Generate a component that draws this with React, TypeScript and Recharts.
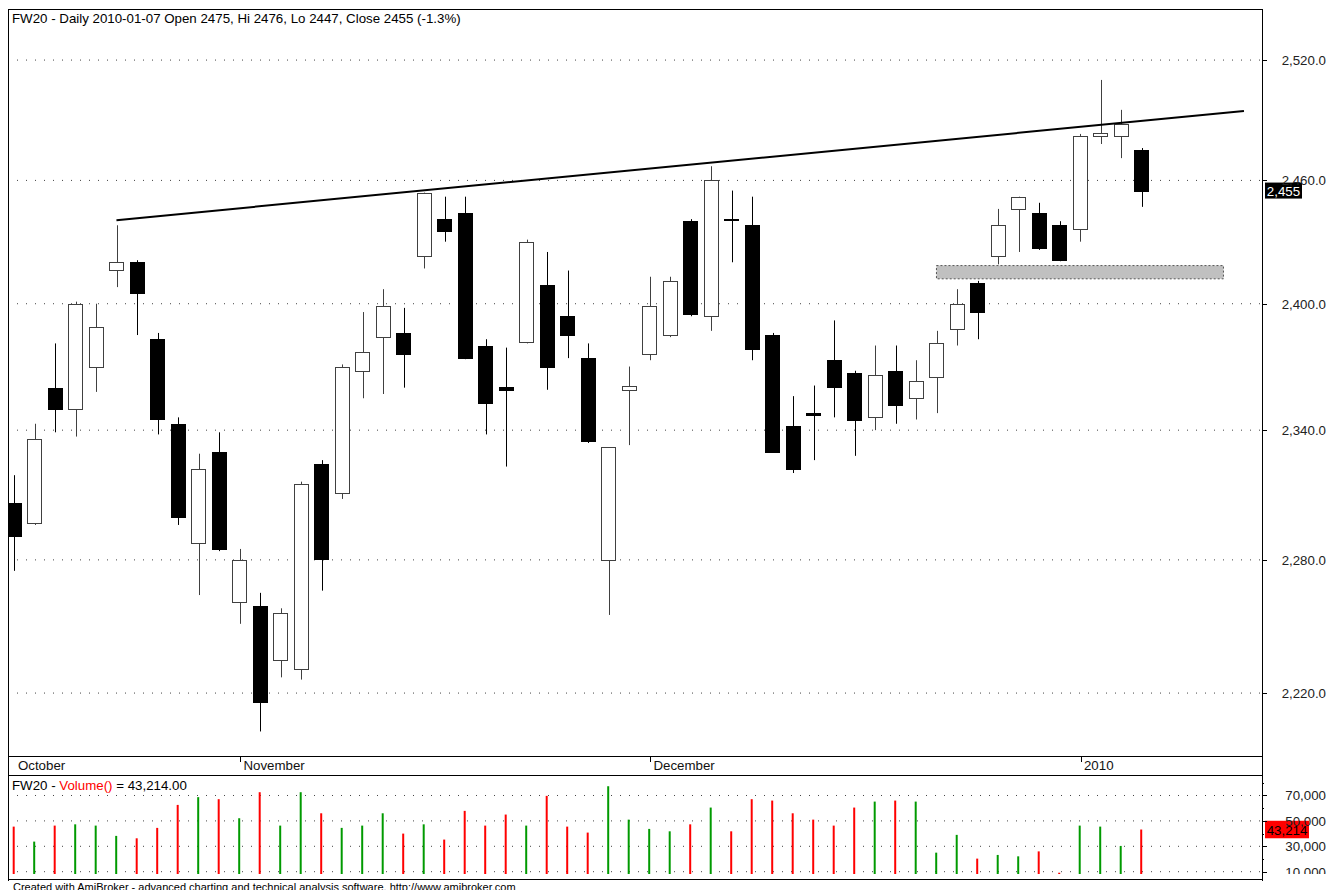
import React from 'react';
import {
  ComposedChart,
  Bar,
  Cell,
  XAxis,
  YAxis,
  CartesianGrid,
  ReferenceLine,
  ReferenceArea,
} from 'recharts';

// FW20 daily, mid-October 2009 .. 2010-01-07
const OPEN = [
  2306, 2297, 2360, 2350, 2370, 2416, 2420, 2383, 2343, 2288,
  2330, 2261, 2259, 2235, 2231, 2324, 2311, 2368, 2384, 2386,
  2423, 2441, 2444, 2380, 2360.5, 2382, 2409, 2394, 2374, 2280,
  2359, 2376, 2385, 2440, 2394, 2441, 2438, 2385, 2342, 2348,
  2373, 2367, 2346, 2368, 2355, 2365, 2388, 2410, 2423, 2446,
  2444, 2438, 2436, 2482, 2482, 2475,
];
const HIGH = [
  2319, 2343, 2381, 2401, 2400, 2438, 2421, 2386, 2346, 2329,
  2339, 2285, 2265, 2258, 2316, 2326, 2371, 2396, 2407, 2398,
  2454, 2452, 2452, 2383, 2379, 2431, 2425, 2416, 2381, 2332,
  2370, 2413, 2413, 2441, 2467, 2455, 2452, 2386, 2356, 2361,
  2392, 2368, 2380, 2380, 2373, 2387, 2407, 2411, 2446, 2452,
  2449, 2440, 2483, 2510, 2495, 2476,
];
const LOW = [
  2275, 2296, 2339, 2337, 2358, 2408, 2385, 2338, 2296, 2264,
  2284, 2251, 2203, 2227, 2226, 2266, 2308, 2355, 2357, 2360,
  2417, 2430, 2373.5, 2338, 2323, 2381, 2359, 2374, 2334, 2255,
  2333, 2373, 2384, 2394, 2387, 2420, 2373, 2329.5, 2320, 2326,
  2346, 2328, 2340, 2343, 2345, 2348, 2380, 2383, 2419, 2425,
  2426, 2420.5, 2430, 2478, 2471, 2447,
];
const CLOSE = [
  2291, 2336, 2350, 2400, 2389, 2420, 2405, 2345, 2300, 2322,
  2285, 2280, 2216, 2256, 2315, 2280, 2370, 2377, 2399, 2376,
  2454, 2435, 2374, 2353, 2359, 2430, 2370, 2385, 2335, 2332,
  2361, 2399, 2411, 2395, 2460, 2440.5, 2378, 2330, 2322, 2347,
  2360, 2345, 2366, 2352, 2363, 2381, 2400, 2396, 2438, 2452,
  2427, 2421, 2482, 2483.4, 2488, 2455,
];
const VOLUME = [
  45500, 33700, 46300, 47300, 46300, 38200, 36300, 44500, 62600, 68700,
  67100, 52100, 72600, 46300, 72600, 56000, 44500, 46300, 56000, 40000,
  47300, 35300, 57900, 46300, 55000, 46300, 69700, 45500, 40800, 77300,
  51000, 43700, 41800, 47300, 60500, 41800, 67100, 66000, 56000, 51000,
  46300, 60500, 65200, 66000, 65200, 25000, 39000, 20300, 23200, 22100,
  26000, 9200, 46300, 45500, 30300, 43214,
];

const MONTH_START = [0, 11, 31, 52];
const MONTH_LABELS = ['October', 'November', 'December', '2010'];
const PRICE_TICKS = [2220, 2280, 2340, 2400, 2460, 2520];
const VOLUME_TICKS = [10000, 20000, 30000, 40000, 50000, 60000, 70000, 80000];
const VOLUME_LABELS = [10000, 30000, 50000, 70000];

// resistance trend line and the grey zone
const TREND = [
  { x: 5, y: 2440.5 },
  { x: 60, y: 2494.4 },
];
const ZONE_X = [45, 59];
const ZONE_Y = [2412.0, 2418.4];

const X_DOMAIN = [-0.29, 60.88];
const PRICE_DOMAIN = [2192.2, 2545.9];
const VOLUME_DOMAIN = [8189, 85354];

const UP_LINE = '#404040';
const GREEN = '#009a00';
const RED = '#ff0000';
const FS = 13.3;

const candles = OPEN.map((o, i) => ({
  i,
  open: o,
  high: HIGH[i],
  low: LOW[i],
  close: CLOSE[i],
  volume: VOLUME[i],
  up: CLOSE[i] >= o,
}));

const fmtPrice = (v: number) =>
  v.toLocaleString('en-US', { minimumFractionDigits: 1, maximumFractionDigits: 1 });
const fmtInt = (v: number) => v.toLocaleString('en-US');

const last = candles[candles.length - 1];
const prev = candles[candles.length - 2];
const pct = ((last.close / prev.close - 1) * 100).toFixed(1);

function Wick(props: any) {
  const { x, y, width, height, payload } = props;
  const left = Math.round(x + width / 2 - 7) + 0.5;
  return (
    <line
      x1={left + 7}
      x2={left + 7}
      y1={y}
      y2={y + height}
      stroke={payload.up ? UP_LINE : '#000'}
      strokeWidth={1}
    />
  );
}

function Body(props: any) {
  const { x, y, width, height, payload } = props;
  const left = Math.round(x + width / 2 - 7) + 0.5;
  const top = Math.round(y) + 0.5;
  const h = Math.max(Math.round(height), 1);
  return (
    <rect
      x={left}
      y={top}
      width={14}
      height={h}
      fill={payload.up ? '#fff' : '#000'}
      stroke={payload.up ? UP_LINE : '#000'}
      strokeWidth={1}
    />
  );
}

function MonthTick(props: any) {
  const { x, y, payload } = props;
  const k = MONTH_START.indexOf(payload.value);
  const lx = Math.round(x) + 1.5;
  return (
    <g>
      {k > 0 && <line x1={lx} x2={lx} y1={y + 1} y2={y + 6} stroke="#000" />}
      <text x={x + 4} y={y + 14} fontSize={FS} fill="#111">
        {MONTH_LABELS[k]}
      </text>
    </g>
  );
}

function PriceTick(props: any) {
  const { x, y, payload } = props;
  const yy = Math.round(y) + 0.5;
  return (
    <g>
      <line x1={x} x2={x + 5} y1={yy} y2={yy} stroke="#000" />
      <text x={x + 64} y={y + 5} textAnchor="end" fontSize={FS} fill="#222">
        {fmtPrice(payload.value)}
      </text>
    </g>
  );
}

function VolumeTick(props: any) {
  const { x, y, payload } = props;
  const major = VOLUME_LABELS.includes(payload.value);
  const yy = Math.round(y) + 0.5;
  return (
    <g>
      <line x1={x} x2={x + (major ? 5 : 2)} y1={yy} y2={yy} stroke="#000" />
      {major && (
        <text x={x + 64} y={y + 5} textAnchor="end" fontSize={FS} fill="#222">
          {fmtInt(payload.value)}
        </text>
      )}
    </g>
  );
}

function LastTag(props: any) {
  const { viewBox, text, bg, fg, w, h } = props;
  const right = viewBox.x + viewBox.width;
  const cy = viewBox.y;
  return (
    <g>
      <rect x={right + 3} y={cy - h / 2} width={w} height={h} fill={bg} />
      <text x={right + 3 + w / 2} y={cy + 5} textAnchor="middle" fontSize={FS} fill={fg}>
        {text}
      </text>
    </g>
  );
}

const line = (style: React.CSSProperties) => (
  <div style={{ position: 'absolute', background: '#000', ...style }} />
);

export default function App() {
  return (
    <div
      style={{
        position: 'absolute',
        left: 0,
        top: 0,
        width: 1328,
        height: 890,
        overflow: 'hidden',
        background: '#fff',
        fontFamily: '"Liberation Sans", Arial, sans-serif',
        color: '#000',
      }}
    >
      <div style={{ position: 'absolute', left: 8, top: 9 }}>
        <ComposedChart
          width={1320}
          height={766}
          data={candles}
          margin={{ top: 0, right: 0, bottom: 0, left: 0 }}
        >
          <CartesianGrid
            vertical={false}
            horizontalValues={PRICE_TICKS}
            stroke="#444"
            strokeDasharray="1 8"
          />
          <XAxis
            xAxisId={0}
            type="number"
            dataKey="i"
            domain={X_DOMAIN}
            allowDataOverflow
            ticks={MONTH_START}
            interval={0}
            height={19}
            tickSize={0}
            tickMargin={0}
            axisLine={false}
            tickLine={false}
            tick={<MonthTick />}
          />
          <XAxis xAxisId={1} type="number" dataKey="i" domain={X_DOMAIN} allowDataOverflow hide />
          <YAxis
            yAxisId={0}
            orientation="right"
            width={66}
            scale="log"
            domain={PRICE_DOMAIN}
            allowDataOverflow
            ticks={PRICE_TICKS}
            interval={0}
            tickSize={0}
            tickMargin={0}
            axisLine={false}
            tickLine={false}
            tick={<PriceTick />}
          />
          <Bar
            xAxisId={1}
            dataKey={(d: any) => [d.low, d.high]}
            barSize={1}
            shape={<Wick />}
            isAnimationActive={false}
          />
          <Bar
            xAxisId={0}
            dataKey={(d: any) => [Math.min(d.open, d.close), Math.max(d.open, d.close)]}
            barSize={14}
            shape={<Body />}
            isAnimationActive={false}
          />
          <ReferenceArea
            x1={ZONE_X[0]}
            x2={ZONE_X[1]}
            y1={ZONE_Y[0]}
            y2={ZONE_Y[1]}
            fill="#c0c0c0"
            fillOpacity={1}
            stroke="#555"
            strokeDasharray="2 2"
          />
          <ReferenceLine segment={TREND} stroke="#000" strokeWidth={2} />
          <ReferenceLine
            y={last.close}
            stroke="none"
            label={<LastTag text={fmtInt(last.close)} bg="#000" fg="#fff" w={37} h={16} />}
          />
        </ComposedChart>
      </div>

      <div style={{ position: 'absolute', left: 8, top: 776 }}>
        <ComposedChart
          width={1320}
          height={98}
          data={candles}
          margin={{ top: 0, right: 0, bottom: 0, left: 0 }}
        >
          <CartesianGrid
            vertical={false}
            horizontalValues={VOLUME_LABELS}
            stroke="#444"
            strokeDasharray="1 8"
          />
          <XAxis type="number" dataKey="i" domain={X_DOMAIN} allowDataOverflow hide />
          <YAxis
            orientation="right"
            width={66}
            domain={VOLUME_DOMAIN}
            allowDataOverflow
            ticks={VOLUME_TICKS}
            interval={0}
            tickSize={0}
            tickMargin={0}
            axisLine={false}
            tickLine={false}
            tick={<VolumeTick />}
          />
          <Bar dataKey="volume" barSize={2} isAnimationActive={false}>
            {candles.map((c) => (
              <Cell key={c.i} fill={c.up ? GREEN : RED} />
            ))}
          </Bar>
          <ReferenceLine
            y={last.volume}
            stroke="none"
            label={<LastTag text={fmtInt(last.volume)} bg={RED} fg="#000" w={44} h={17.5} />}
          />
        </ComposedChart>
      </div>

      <div style={{ position: 'absolute', left: 12, top: 11, fontSize: FS, lineHeight: '15px', whiteSpace: 'nowrap' }}>
        {`FW20 - Daily 2010-01-07 Open ${last.open}, Hi ${last.high}, Lo ${last.low}, Close ${last.close} (${pct}%)`}
      </div>
      <div style={{ position: 'absolute', left: 12, top: 778, fontSize: FS, lineHeight: '15px', whiteSpace: 'nowrap' }}>
        FW20 - <span style={{ color: RED }}>Volume()</span>
        {` = ${last.volume.toLocaleString('en-US', { minimumFractionDigits: 2 })}`}
      </div>
      <div style={{ position: 'absolute', left: 13, top: 880.5, fontSize: 11, lineHeight: '13px', whiteSpace: 'nowrap' }}>
        Created with AmiBroker - advanced charting and technical analysis software. http://www.amibroker.com
      </div>

      {line({ left: 8, top: 9, width: 1255, height: 1 })}
      {line({ left: 8, top: 9, width: 1, height: 872 })}
      {line({ left: 1262, top: 9, width: 1, height: 872 })}
      {line({ left: 8, top: 756, width: 1255, height: 1 })}
      {line({ left: 8, top: 775, width: 1255, height: 1 })}
      {line({ left: 8, top: 879, width: 1255, height: 1 })}
    </div>
  );
}
